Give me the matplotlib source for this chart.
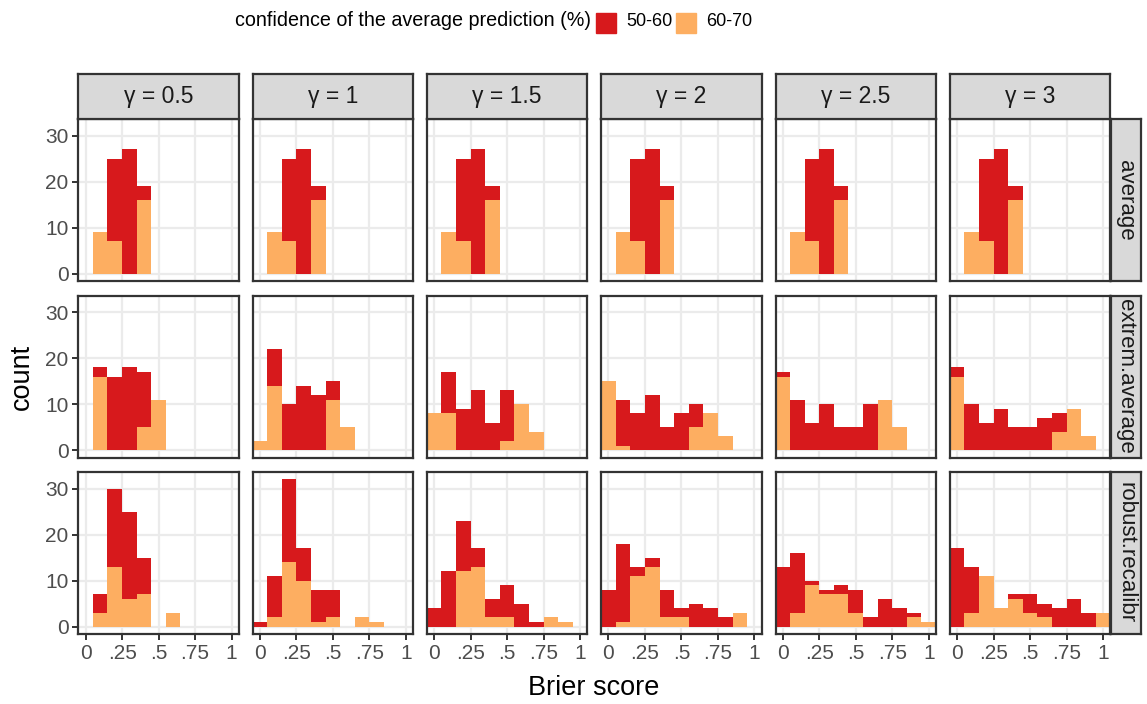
import numpy as np
import matplotlib.pyplot as plt
from matplotlib.patches import Rectangle

plt.rcParams['font.family'] = ['Liberation Sans', 'DejaVu Sans']

# bin centres of the histograms (binwidth 0.1)
bins = np.round(np.arange(0, 1.01, 0.1), 1)
gammas = ['0.5', '1', '1.5', '2', '2.5', '3']
methods = ['average', 'extrem.average', 'robust.recalibr']
groups = ['50-60', '60-70']

# counts per bin, one list per gamma
# row "average" (same in every gamma)
avg_red = [0, 0, 18, 27, 3, 0, 0, 0, 0, 0, 0]
avg_orange = [0, 9, 7, 0, 16, 0, 0, 0, 0, 0, 0]

ext_red = [
    [0, 2, 16, 18, 12, 0, 0, 0, 0, 0, 0],
    [0, 8, 10, 14, 12, 4, 0, 0, 0, 0, 0],
    [0, 9, 9, 13, 6, 11, 0, 0, 0, 0, 0],
    [0, 10, 8, 12, 5, 8, 5, 0, 0, 0, 0],
    [1, 11, 6, 10, 5, 5, 10, 0, 0, 0, 0],
    [2, 10, 6, 9, 5, 5, 7, 4, 0, 0, 0],
]
ext_orange = [
    [0, 16, 0, 0, 5, 11, 0, 0, 0, 0, 0],
    [2, 14, 0, 0, 0, 11, 5, 0, 0, 0, 0],
    [8, 8, 0, 0, 0, 2, 10, 4, 0, 0, 0],
    [15, 1, 0, 0, 0, 0, 5, 8, 3, 0, 0],
    [16, 0, 0, 0, 0, 0, 0, 11, 5, 0, 0],
    [16, 0, 0, 0, 0, 0, 0, 4, 9, 3, 0],
]

rob_red = [
    [0, 4, 17, 19, 8, 0, 0, 0, 0, 0, 0],
    [1, 9, 18, 7, 7, 6, 0, 0, 0, 0, 0],
    [4, 12, 11, 4, 4, 7, 5, 1, 0, 0, 0],
    [8, 17, 2, 2, 6, 2, 5, 4, 2, 0, 0],
    [13, 13, 1, 1, 2, 5, 2, 6, 4, 1, 0],
    [17, 10, 0, 0, 1, 4, 3, 4, 6, 3, 0],
]
rob_orange = [
    [0, 3, 13, 6, 7, 0, 3, 0, 0, 0, 0],
    [0, 2, 14, 10, 1, 2, 0, 2, 1, 0, 0],
    [0, 0, 12, 13, 2, 2, 0, 0, 2, 1, 0],
    [0, 1, 11, 13, 2, 2, 0, 0, 0, 3, 0],
    [0, 3, 9, 7, 7, 3, 0, 0, 0, 2, 1],
    [0, 3, 11, 4, 6, 3, 2, 0, 0, 0, 3],
]

red_rows = [[avg_red] * 6, ext_red, rob_red]
orange_rows = [[avg_orange] * 6, ext_orange, rob_orange]

RED = '#D7191C'
ORANGE = '#FDAE61'
DARK = '#333333'
TXT = '#4D4D4D'

W, H = 1147, 704
fig = plt.figure(figsize=(W / 100, H / 100), dpi=100)


def fx(px):
    return px / W


def fy(px):
    return 1 - px / H


col_left = [78.3 + i * 174.3 for i in range(6)]
pw, ph = 160.5, 162
row_top = [119, 295.5, 472]

for r in range(3):
    for c in range(6):
        ax = fig.add_axes([fx(col_left[c]), fy(row_top[r] + ph), pw / W, ph / H])
        ax.set_axisbelow(True)
        ax.grid(True, color='#EBEBEB', lw=1.6)
        ax.bar(bins, orange_rows[r][c], width=0.1, color=ORANGE, lw=0)
        ax.bar(bins, red_rows[r][c], width=0.1, bottom=orange_rows[r][c], color=RED, lw=0)
        ax.set_xlim(-0.05, 1.05)
        ax.set_ylim(-1.6, 33.6)
        ax.set_xticks([0, 0.25, 0.5, 0.75, 1])
        ax.set_yticks([0, 10, 20, 30])
        ax.set_xticklabels(['0', '.25', '.5', '.75', '1'])
        for s in ax.spines.values():
            s.set_color(DARK)
            s.set_linewidth(1.6)
        ax.tick_params(colors=DARK, labelcolor=TXT, labelsize=15, length=4, width=1.4, pad=3)
        if c != 0:
            ax.tick_params(axis='y', left=False, labelleft=False)
        if r != 2:
            ax.tick_params(axis='x', bottom=False, labelbottom=False)

        # top strips
        if r == 0:
            sx = fig.add_axes([fx(col_left[c]), fy(118.5), pw / W, 44.5 / H])
            sx.set_facecolor('#D9D9D9')
            sx.set_xticks([])
            sx.set_yticks([])
            for s in sx.spines.values():
                s.set_color(DARK)
                s.set_linewidth(1.6)
            sx.text(0.5, 0.5, '\u03b3 = ' + gammas[c], ha='center', va='center',
                    fontsize=16.5, color='#1A1A1A', transform=sx.transAxes)
    # right strips
    rx = fig.add_axes([fx(1110.5), fy(row_top[r] + ph), 30 / W, ph / H])
    rx.set_facecolor('#D9D9D9')
    rx.set_xticks([])
    rx.set_yticks([])
    for s in rx.spines.values():
        s.set_color(DARK)
        s.set_linewidth(1.6)
    rx.text(0.5, 0.5, methods[r], ha='center', va='center', rotation=-90,
            fontsize=16, color='#1A1A1A', transform=rx.transAxes)

# axis titles
fig.text(fx(594), fy(688), 'Brier score', ha='center', va='center', fontsize=19.5)
fig.text(fx(22), fy(377), 'count', ha='center', va='center', rotation=90, fontsize=19.5)

# legend on top
fig.text(fx(235), fy(21), 'confidence of the average prediction (%)', ha='left', va='center',
         fontsize=14.2)
for x0, col, lab in [(596, RED, groups[0]), (676, ORANGE, groups[1])]:
    fig.patches.append(Rectangle((fx(x0), fy(32.5)), 20 / W, 19.5 / H, color=col,
                                 transform=fig.transFigure, figure=fig))
    fig.text(fx(x0 + 30), fy(21), lab, ha='left', va='center', fontsize=13)

fig.savefig('out.png', dpi=100)
